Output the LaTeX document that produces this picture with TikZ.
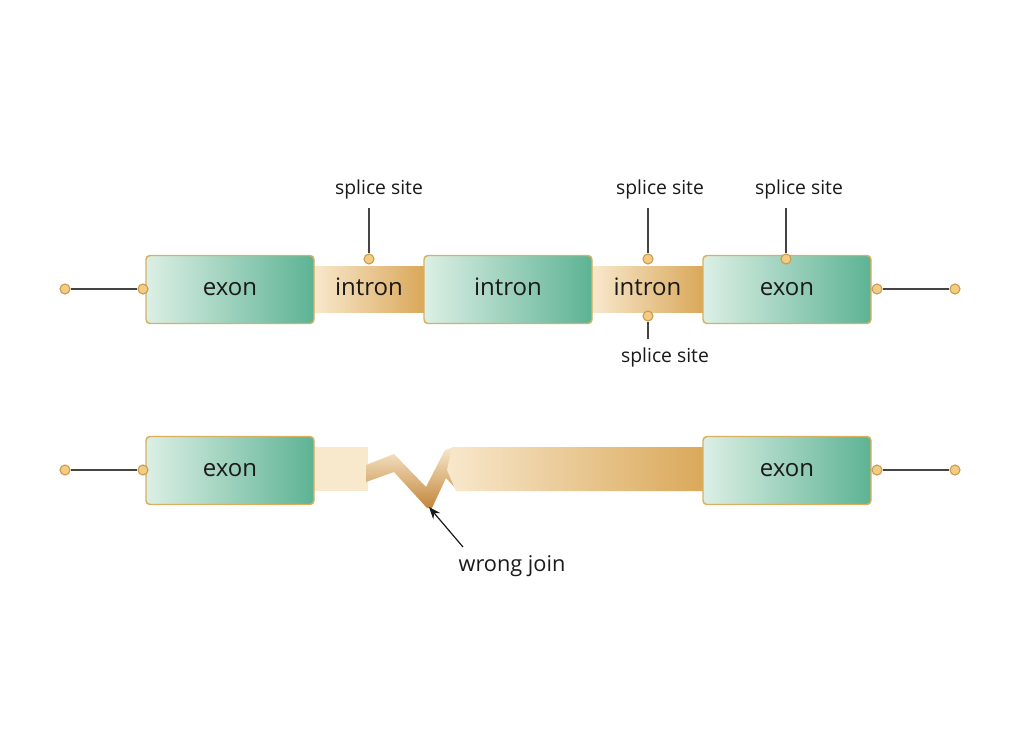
\documentclass[tikz,border=0pt]{standalone}
\usepackage{fontspec}
\setmainfont{Open Sans}
\usetikzlibrary{arrows.meta}
\definecolor{mintL}{HTML}{DCEFE5}
\definecolor{mintR}{HTML}{5DB394}
\definecolor{goldB}{HTML}{D8B060}
\definecolor{creamL}{HTML}{F8E8CC}
\definecolor{goldR}{HTML}{DAA85A}
\definecolor{goldD}{HTML}{C2863A}
\definecolor{dotF}{HTML}{F3CC82}
\definecolor{dotD}{HTML}{C99A50}
\definecolor{txt}{HTML}{1A1A1A}
\definecolor{wire}{HTML}{444444}
\tikzset{
  exonbox/.style={rectangle, rounded corners=3pt, minimum width=126pt, minimum height=51pt,
    left color=mintL, right color=mintR, draw=goldB, line width=1.1pt,
    font=\fontsize{18}{20}\selectfont, text=txt, inner sep=0pt, text height=9.6pt, text depth=0pt},
  bandbox/.style={rectangle, minimum height=34.5pt, left color=creamL, right color=goldR,
    draw=none, font=\fontsize{18}{20}\selectfont, text=txt, inner sep=0pt, text height=9.6pt, text depth=0pt},
  dotnode/.style={circle, minimum size=7.5pt, inner sep=0pt, fill=dotF, draw=dotD, line width=0.8pt},
  sitelabel/.style={font=\fontsize{14.5}{17}\selectfont, text=txt, inner sep=0pt, text height=7.8pt, text depth=0pt},
  wirel/.style={draw=wire, line width=0.9pt},
}
\begin{document}
\begin{tikzpicture}[x=0.75pt,y=-0.75pt]
\useasboundingbox (0,0) rectangle (1024,747);
\fill[white] (0,0) rectangle (1024,747);

% ---------- top row ----------
\node[bandbox, minimum width=82.5pt] (b1) at (369,289.5) {intron};
\node[bandbox, minimum width=83.25pt] (b2) at (647.5,289.5) {intron};
\node[exonbox] (e1) at (230,289.5) {exon};
\node[exonbox] (i2) at (508,289.5) {intron};
\node[exonbox] (e3) at (787,289.5) {exon};

\node[dotnode] (l1) at (65,289) {};
\node[dotnode] (l2) at (143,289) {};
\node[dotnode] (r1) at (877,289) {};
\node[dotnode] (r2) at (955,289) {};
\draw[wirel] (l1) -- (l2);
\draw[wirel] (r1) -- (r2);

% splice sites
\node[sitelabel] (s1) at (379,189) {splice site};
\node[sitelabel] (s2) at (660,189) {splice site};
\node[sitelabel] (s3) at (799,189) {splice site};
\node[sitelabel] (s4) at (665,357) {splice site};
\node[dotnode] (d1) at (369,259) {};
\node[dotnode] (d2) at (648,259) {};
\node[dotnode] (d3) at (786,259) {};
\node[dotnode] (d4) at (648,316) {};
\coordinate (c1) at (369,208);
\coordinate (c2) at (648,208);
\coordinate (c3) at (786,208);
\coordinate (c4) at (648,339);
\draw[wirel] (c1) -- (d1);
\draw[wirel] (c2) -- (d2);
\draw[wirel] (c3) -- (d3);
\draw[wirel] (c4) -- (d4);

% ---------- bottom row ----------
\fill[creamL] (312,447) rectangle (368,491);
\shade[top color=creamL, bottom color=goldD]
  (366,465) -- (394,454) -- (426,487) -- (445,450) -- (454,447) -- (458,491)
  -- (446,478) -- (432,508) -- (427,508) -- (394,472) -- (366,482) -- cycle;
\shade[left color=creamL, right color=goldR]
  (452,447) -- (705,447) -- (705,491) -- (456,491) -- (447,470) -- cycle;

\node[exonbox] (e4) at (230,470.5) {exon};
\node[exonbox] (e5) at (787,470.5) {exon};
\node[dotnode] (l3) at (65,470) {};
\node[dotnode] (l4) at (143,470) {};
\node[dotnode] (r3) at (877,470) {};
\node[dotnode] (r4) at (955,470) {};
\draw[wirel] (l3) -- (l4);
\draw[wirel] (r3) -- (r4);

\node[font=\fontsize{16.3}{19}\selectfont, text=txt, inner sep=0pt, text height=8.7pt, text depth=0pt] (wj) at (512,565.5) {wrong join};
\coordinate (tip) at (429,507);
\coordinate (tail) at (463,547);
\draw[-{Stealth[length=9pt,width=7pt]}, draw=txt, line width=0.9pt] (tail) -- (tip);
\end{tikzpicture}
\end{document}
